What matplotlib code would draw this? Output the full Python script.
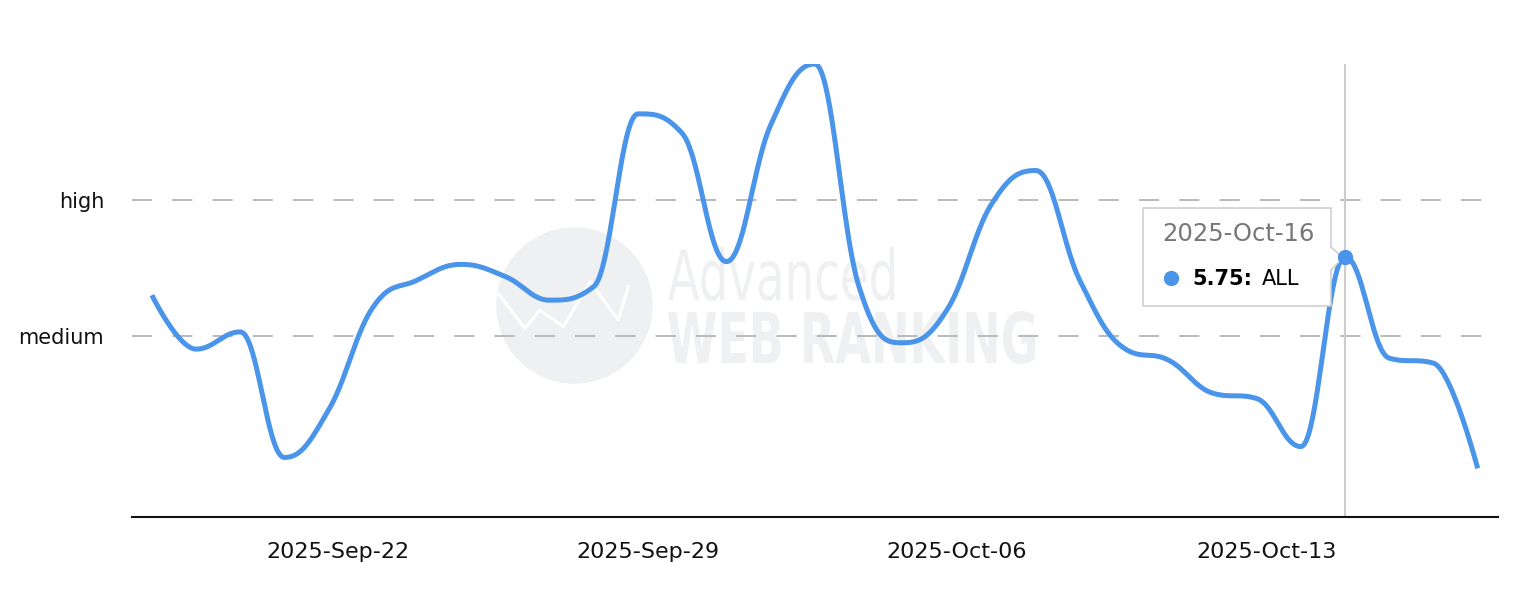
import numpy as np
import pandas as pd
import matplotlib
matplotlib.use("Agg")
import matplotlib.pyplot as plt
import matplotlib.dates as mdates
from matplotlib.textpath import TextPath
from matplotlib.patches import PathPatch, Circle, Polygon
from matplotlib.font_manager import FontProperties
from matplotlib.transforms import Affine2D

W, H = 1534, 608

# daily visibility score (0..10), Sep 19 -> Oct 19
dates = pd.date_range("2025-09-19", "2025-10-19", freq="D")
values = [4.90, 3.71, 4.09, 1.32, 2.37, 4.63, 5.23, 5.58, 5.31, 4.79,
          5.09, 8.90, 8.47, 5.64, 8.65, 10.0, 5.09, 3.85, 4.59, 6.91,
          7.65, 5.22, 3.73, 3.47, 2.74, 2.62, 1.56, 5.75, 3.51, 3.40,
          1.08]
series_name = "ALL"
hover_idx = 27

y_ticks = [4, 7]
y_labels = ["medium", "high"]
x_tick_dates = pd.to_datetime(["2025-09-22", "2025-09-29", "2025-10-06", "2025-10-13"])

LINE = "#4a94e9"


def hc_spline(x, y, smoothing=1.5, steps=40):
    '''
    Highcharts style spline: cubic bezier with smoothed control points,
    clamped so no false extremes appear between points
    '''
    n = len(x)
    left = [None] * n
    right = [None] * n
    for i in range(n):
        if 0 < i < n - 1:
            d = smoothing + 1
            lcx = (smoothing * x[i] + x[i - 1]) / d
            lcy = (smoothing * y[i] + y[i - 1]) / d
            rcx = (smoothing * x[i] + x[i + 1]) / d
            rcy = (smoothing * y[i] + y[i + 1]) / d
            corr = ((rcy - lcy) * (rcx - x[i])) / (rcx - lcx) + y[i] - rcy
            lcy += corr
            rcy += corr
            if lcy > y[i - 1] and lcy > y[i]:
                lcy = max(y[i - 1], y[i]); rcy = 2 * y[i] - lcy
            elif lcy < y[i - 1] and lcy < y[i]:
                lcy = min(y[i - 1], y[i]); rcy = 2 * y[i] - lcy
            if rcy > y[i + 1] and rcy > y[i]:
                rcy = max(y[i + 1], y[i]); lcy = 2 * y[i] - rcy
            elif rcy < y[i + 1] and rcy < y[i]:
                rcy = min(y[i + 1], y[i]); lcy = 2 * y[i] - rcy
            left[i] = (lcx, lcy)
            right[i] = (rcx, rcy)
        else:
            left[i] = right[i] = (x[i], y[i])
    t = np.linspace(0, 1, steps)[:, None]
    out = [np.array([[x[0], y[0]]])]
    for i in range(1, n):
        p0 = np.array([x[i - 1], y[i - 1]])
        p1 = np.array(right[i - 1])
        p2 = np.array(left[i])
        p3 = np.array([x[i], y[i]])
        seg = ((1 - t) ** 3) * p0 + 3 * ((1 - t) ** 2) * t * p1 + 3 * (1 - t) * t ** 2 * p2 + t ** 3 * p3
        out.append(seg[1:])
    pts = np.vstack(out)
    return pts[:, 0], pts[:, 1]


def fit_text(ax, s, box, weight, color):
    # draw text stretched into a pixel box (x0, top, x1, bottom)
    tp = TextPath((0, 0), s, size=100, prop=FontProperties(family="DejaVu Sans", weight=weight))
    bb = tp.get_extents()
    x0, top, x1, bottom = box
    tr = Affine2D().translate(-bb.x0, -bb.y0).scale((x1 - x0) / bb.width, -(bottom - top) / bb.height).translate(x0, bottom)
    ax.add_patch(PathPatch(tr.transform_path(tp), fc=color, ec="none"))


fig = plt.figure(figsize=(W / 100, H / 100), dpi=100)

# background layer for watermark (pixel coords)
bg = fig.add_axes([0, 0, 1, 1], zorder=0)
bg.set_xlim(0, W); bg.set_ylim(H, 0); bg.axis("off")
wm = "#eff0f2"
globe = Circle((574.5, 305.5), 77.5, color=wm)
bg.add_patch(globe)
zig, = bg.plot([496.7, 525, 540, 563.3, 590, 618.3, 628.3],
               [291.7, 328.3, 310, 326.7, 281.7, 320, 286.7], color="white", lw=2.2)
zig.set_clip_path(globe)
fit_text(bg, "Advanced", (668, 247, 894, 301), "normal", wm)
fit_text(bg, "WEB RANKING", (668, 311, 1035, 364), "bold", wm)

# pixel overlay used as a coordinate system for the tooltip
ov = fig.add_axes([0, 0, 1, 1], zorder=-1)
ov.set_xlim(0, W); ov.set_ylim(H, 0); ov.axis("off")

ax = fig.add_axes([132 / W, 1 - 517.3 / H, (1498 - 132) / W, (517.3 - 64) / H], zorder=1)
ax.set_facecolor("none")

xd = mdates.date2num(dates)
sx, sy = hc_spline(list(xd), values)
ax.plot(sx, sy, color=LINE, lw=3.6, solid_capstyle="butt", solid_joinstyle="round", zorder=3)

for yt in y_ticks:
    ax.axhline(yt, color="#bbbbbb", lw=1.45, linestyle=(0, (10, 10)), zorder=1)

ax.axvline(xd[hover_idx], color="#cccccc", lw=1.4, zorder=2)

ax.set_ylim(0, 10)
step = xd[1] - xd[0]
ax.set_xlim(xd[0] - 0.45 * step, xd[-1] + 0.46 * step)

ax.set_yticks(y_ticks)
ax.set_yticklabels(y_labels, fontsize=15, color="#111111")
# labels in the source sit about 1.2 days right of the week start
ax.set_xticks(mdates.date2num(x_tick_dates) + 1.22)
ax.set_xticklabels([d.strftime("%Y-%b-%d") for d in x_tick_dates], fontsize=16, color="#111111")
ax.tick_params(axis="y", length=0, pad=20)
ax.tick_params(axis="x", length=0, pad=18)
for s in ["top", "right", "left"]:
    ax.spines[s].set_visible(False)
ax.spines["bottom"].set_linewidth(1.5)
ax.spines["bottom"].set_color("#111111")

# tooltip
tip = Polygon([(1143, 208), (1331, 208), (1331, 247), (1343, 258), (1331, 270), (1331, 306), (1143, 306)],
              closed=True, fc="#fefefe", ec="#cccccc", lw=1.1, transform=ov.transData, clip_on=False, zorder=4)
ax.add_artist(tip)
ax.text(1162, 234, dates[hover_idx].strftime("%Y-%b-%d"), transform=ov.transData, fontsize=17.5,
        color="#777777", va="center", ha="left", zorder=5, clip_on=False)
ax.plot([1171], [278], marker="o", ms=10, color=LINE, transform=ov.transData, clip_on=False, zorder=5)
ax.text(1192, 279, f"{values[hover_idx]:.2f}:", transform=ov.transData, fontsize=15,
        fontweight="bold", color="#000000", va="center", ha="left", zorder=5, clip_on=False)
ax.text(1262, 279, series_name, transform=ov.transData, fontsize=15, color="#000000",
        va="center", ha="left", zorder=5, clip_on=False)

ax.plot([xd[hover_idx]], [values[hover_idx]], marker="o", ms=10, color=LINE, zorder=6, clip_on=False)

fig.savefig("out.png", dpi=100)
